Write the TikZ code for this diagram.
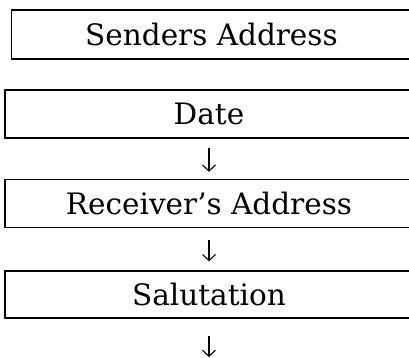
\documentclass[tikz,border=0pt]{standalone}
\usepackage{fontspec}
\setmainfont{DejaVu Serif}
\usepackage{tikz}
\usetikzlibrary{arrows.meta}
\newcommand{\boxtext}[1]{\fontsize{29.5}{34}\selectfont #1}

\begin{document}
\begin{tikzpicture}[x=1pt,y=-1pt,
  part/.style={draw, line width=1.5pt, minimum width=408pt, minimum height=48pt, inner sep=0pt},
  flow/.style={-{Straight Barb[length=6pt,width=13pt]}, line width=1.1pt}]
\useasboundingbox (0,0) rectangle (409,358);
\clip (0,0) rectangle (409,358);
\node[part, minimum width=400pt, minimum height=49pt] (sender) at (211.5,34.5) {\boxtext{Senders Address}};
\node[part] (date) at (209,113.8) {\boxtext{Date}};
\node[part] (receiver) at (209,203.5) {\boxtext{Receiver’s Address}};
\node[part, minimum height=47pt] (salute) at (209,294.5) {\boxtext{Salutation}};
\coordinate (next) at (209,358);
\draw[flow, shorten <=9pt, shorten >=7pt] (date.south) -- (receiver.north);
\draw[flow, shorten <=12pt, shorten >=9pt] (receiver.south) -- (salute.north);
\draw[flow, shorten <=17pt, shorten >=1pt] (salute.south) -- (next);
\end{tikzpicture}
\end{document}
